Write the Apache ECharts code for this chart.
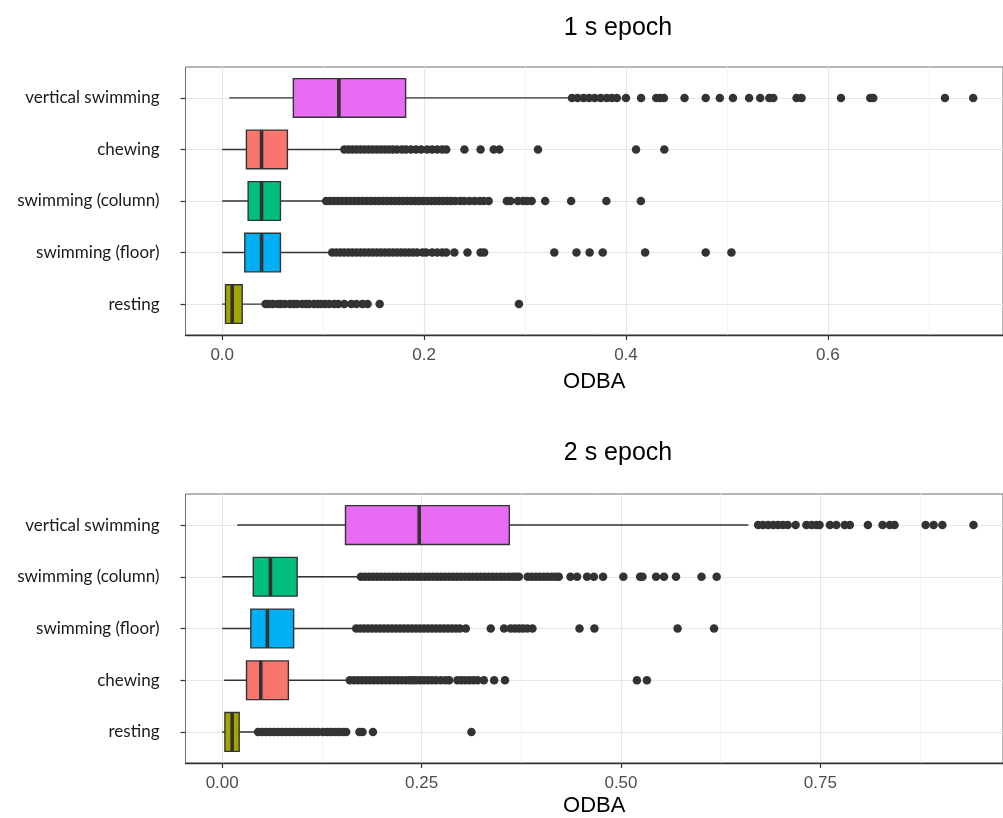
<!DOCTYPE html>
<html>
<head>
    <meta charset="UTF-8">
    <title>ODBA by behaviour</title>
    <script src="https://cdn.jsdelivr.net/npm/echarts@6/dist/echarts.min.js"></script>
    <style>
        html, body { margin: 0; padding: 0; background: #fff; }
    </style>
</head>
<body>
<div id="main" style="width: 1003px;height: 818px;"></div>

<script type="text/javascript">
    // ---- 1 s epoch ----
    var cats1 = ['resting', 'swimming (floor)', 'swimming (column)', 'chewing', 'vertical swimming'];
    var colors1 = ['#A3A500', '#00B0F6', '#00BF7D', '#F8766D', '#E76BF3'];
    // [lower whisker, Q1, median, Q3, upper whisker]
    var stats1 = [
        [0.0, 0.0033, 0.0099, 0.0198, 0.042],
        [0.0, 0.0224, 0.039, 0.0577, 0.108],
        [0.0, 0.0257, 0.039, 0.0577, 0.102],
        [0.0, 0.024, 0.039, 0.0646, 0.12],
        [0.007, 0.0705, 0.1156, 0.1817, 0.344]
    ];
    var out1Resting = [0.043, 0.046, 0.050, 0.055, 0.058, 0.062, 0.067, 0.071, 0.074, 0.079, 0.083, 0.086, 0.091, 0.095,
        0.098, 0.102, 0.106, 0.111, 0.115, 0.121, 0.128, 0.133, 0.139, 0.144, 0.156, 0.294];
    var out1Floor = [0.109, 0.113, 0.117, 0.121, 0.125, 0.129, 0.133, 0.137, 0.141, 0.145, 0.149, 0.153, 0.157, 0.161,
        0.165, 0.169, 0.173, 0.177, 0.181, 0.185, 0.189, 0.193, 0.1985, 0.202, 0.208, 0.213, 0.218, 0.222, 0.230,
        0.243, 0.256, 0.2595, 0.329, 0.351, 0.364, 0.377, 0.419, 0.479, 0.5045];
    var out1Column = [0.103, 0.107, 0.111, 0.115, 0.119, 0.123, 0.127, 0.131, 0.135, 0.139, 0.143, 0.147, 0.151, 0.155,
        0.159, 0.163, 0.167, 0.171, 0.175, 0.179, 0.183, 0.187, 0.191, 0.195, 0.199, 0.203, 0.207, 0.211, 0.215,
        0.219, 0.223, 0.227, 0.231, 0.236, 0.240, 0.245, 0.250, 0.255, 0.259, 0.264, 0.282, 0.2856, 0.293, 0.298,
        0.302, 0.3066, 0.320, 0.3457, 0.3806, 0.4148];
    var out1Chewing = [0.121, 0.125, 0.129, 0.133, 0.137, 0.141, 0.145, 0.149, 0.153, 0.157, 0.161, 0.165, 0.169, 0.173,
        0.178, 0.182, 0.187, 0.192, 0.197, 0.203, 0.208, 0.213, 0.218, 0.222, 0.240, 0.256, 0.269, 0.2746, 0.3128,
        0.410, 0.438];
    var out1Vertical = [0.3465, 0.352, 0.358, 0.3635, 0.369, 0.375, 0.381, 0.386, 0.391, 0.400, 0.415, 0.430, 0.434,
        0.4376, 0.458, 0.479, 0.493, 0.506, 0.522, 0.533, 0.542, 0.546, 0.569, 0.574, 0.613, 0.642, 0.645, 0.716, 0.744];
    var ticks1 = [0, 0.2, 0.4, 0.6];
    var minor1 = [0.1, 0.3, 0.5, 0.7];

    // ---- 2 s epoch ----
    var cats2 = ['resting', 'chewing', 'swimming (floor)', 'swimming (column)', 'vertical swimming'];
    var colors2 = ['#A3A500', '#F8766D', '#00B0F6', '#00BF7D', '#E76BF3'];
    var stats2 = [
        [0.0, 0.0034, 0.0125, 0.0213, 0.044],
        [0.0025, 0.0305, 0.0484, 0.083, 0.158],
        [0.0, 0.0359, 0.0567, 0.0896, 0.166],
        [0.0, 0.039, 0.0605, 0.094, 0.172],
        [0.0188, 0.1546, 0.247, 0.36, 0.6596]
    ];
    var out2Resting = [0.045, 0.050, 0.055, 0.060, 0.065, 0.070, 0.075, 0.080, 0.085, 0.090, 0.095, 0.100, 0.105, 0.110,
        0.115, 0.120, 0.126, 0.131, 0.136, 0.141, 0.146, 0.151, 0.1555, 0.172, 0.176, 0.189, 0.3125];
    var out2Chewing = [0.160, 0.165, 0.170, 0.175, 0.180, 0.185, 0.190, 0.195, 0.200, 0.205, 0.210, 0.215, 0.220, 0.225,
        0.230, 0.235, 0.239, 0.243, 0.248, 0.253, 0.258, 0.263, 0.268, 0.274, 0.280, 0.2846, 0.295, 0.300, 0.305,
        0.310, 0.315, 0.320, 0.328, 0.341, 0.3546, 0.520, 0.5325];
    var out2Floor = [0.168, 0.173, 0.178, 0.183, 0.188, 0.193, 0.198, 0.203, 0.208, 0.213, 0.218, 0.223, 0.228, 0.233,
        0.238, 0.243, 0.248, 0.253, 0.258, 0.263, 0.268, 0.273, 0.278, 0.283, 0.288, 0.293, 0.298, 0.3055, 0.3367,
        0.3534, 0.3617, 0.367, 0.372, 0.377, 0.3825, 0.389, 0.448, 0.4667, 0.571, 0.6167];
    var out2Column = [0.174, 0.179, 0.184, 0.189, 0.194, 0.199, 0.204, 0.209, 0.214, 0.219, 0.224, 0.229, 0.234, 0.239,
        0.244, 0.249, 0.254, 0.259, 0.264, 0.269, 0.274, 0.279, 0.284, 0.289, 0.294, 0.299, 0.304, 0.309, 0.314,
        0.319, 0.324, 0.329, 0.334, 0.339, 0.344, 0.349, 0.354, 0.359, 0.364, 0.368, 0.372, 0.383, 0.388, 0.393,
        0.398, 0.403, 0.408, 0.413, 0.418, 0.422, 0.4367, 0.445, 0.4575, 0.466, 0.4775, 0.503, 0.524, 0.527, 0.544,
        0.554, 0.569, 0.601, 0.62];
    var out2Vertical = [0.672, 0.678, 0.6846, 0.691, 0.697, 0.703, 0.709, 0.719, 0.7325, 0.739, 0.745, 0.749, 0.762,
        0.770, 0.7805, 0.787, 0.8096, 0.828, 0.837, 0.843, 0.882, 0.892, 0.903, 0.942];
    var ticks2 = [0, 0.25, 0.5, 0.75];
    var minor2 = [0.125, 0.375, 0.625, 0.875];

    var panels = [
        {
            title: '1 s epoch', titleTop: 11, top: 67, height: 268, min: -0.03635, max: 0.77353, nameGap: 36,
            cats: cats1, colors: colors1, stats: stats1, ticks: ticks1, minor: minor1, digits: 1,
            outliers: [out1Resting, out1Floor, out1Column, out1Chewing, out1Vertical]
        },
        {
            title: '2 s epoch', titleTop: 436, top: 494, height: 269, min: -0.046, max: 0.979, nameGap: 32,
            cats: cats2, colors: colors2, stats: stats2, ticks: ticks2, minor: minor2, digits: 2,
            outliers: [out2Resting, out2Chewing, out2Floor, out2Column, out2Vertical]
        }
    ];

    var LEFT = 185.5, WIDTH = 820;

    function renderBox(colors) {
        return function (params, api) {
            var c = api.value(0);
            var lo = api.coord([api.value(1), c]);
            var q1 = api.coord([api.value(2), c]);
            var md = api.coord([api.value(3), c]);
            var q3 = api.coord([api.value(4), c]);
            var hi = api.coord([api.value(5), c]);
            var h = api.size([0, 1])[1] * 0.75;
            return {
                type: 'group',
                children: [
                    {type: 'line', shape: {x1: lo[0], y1: lo[1], x2: hi[0], y2: hi[1]},
                        style: {stroke: '#333333', lineWidth: 1.4}},
                    {type: 'rect', shape: {x: q1[0], y: q1[1] - h / 2, width: q3[0] - q1[0], height: h},
                        style: {fill: colors[params.dataIndex], stroke: '#333333', lineWidth: 1.4}},
                    {type: 'line', shape: {x1: md[0], y1: md[1] - h / 2, x2: md[0], y2: md[1] + h / 2},
                        style: {stroke: '#333333', lineWidth: 3.6}}
                ]
            };
        };
    }

    var option = {
        animation: false,
        backgroundColor: '#ffffff',
        title: [],
        grid: [],
        xAxis: [],
        yAxis: [],
        series: []
    };

    panels.forEach(function (p, k) {
        var unit = p.height / 5.2;
        option.title.push({
            text: p.title, left: 613, top: p.titleTop, textAlign: 'center',
            textStyle: {fontFamily: 'Liberation Sans', fontSize: 25, fontWeight: 'normal', color: '#000'}
        });
        // outer panel (border, x labels, vertical grid)
        option.grid.push({
            left: LEFT, top: p.top, width: WIDTH, height: p.height,
            show: true, borderColor: '#6e6e6e', borderWidth: 1, backgroundColor: '#fff'
        });
        // inner area for the categories
        option.grid.push({
            left: LEFT, top: p.top + 0.6 * unit, width: WIDTH, height: p.height - 1.2 * unit
        });
        var digits = p.digits;
        option.xAxis.push({
            type: 'value', gridIndex: 2 * k, min: p.min, max: p.max, position: 'bottom',
            name: 'ODBA', nameLocation: 'middle', nameGap: p.nameGap,
            nameTextStyle: {fontFamily: 'Liberation Sans', fontSize: 22, color: '#000'},
            axisLine: {show: true, onZero: false, lineStyle: {color: '#333333', width: 1.4}},
            axisTick: {show: true, length: 5, customValues: p.ticks, lineStyle: {color: '#333333', width: 1.2}},
            axisLabel: {
                customValues: p.ticks, margin: 12, fontFamily: 'Liberation Sans', fontSize: 17, color: '#4d4d4d',
                formatter: function (v) { return Number(v).toFixed(digits); }
            },
            splitLine: {show: true, lineStyle: {color: '#e6e6e6', width: 1.2}}
        });
        option.xAxis.push({
            type: 'value', gridIndex: 2 * k, min: p.min, max: p.max, position: 'bottom',
            axisLine: {show: false},
            axisTick: {show: false, customValues: p.minor},
            axisLabel: {show: false, customValues: p.minor},
            splitLine: {show: true, lineStyle: {color: '#f3f3f3', width: 1}}
        });
        option.xAxis.push({
            type: 'value', gridIndex: 2 * k + 1, min: p.min, max: p.max, show: false,
            splitLine: {show: false}
        });
        option.yAxis.push({type: 'value', gridIndex: 2 * k, min: 0, max: 1, show: false});
        option.yAxis.push({
            type: 'category', gridIndex: 2 * k + 1, data: p.cats, boundaryGap: false, position: 'left',
            axisLine: {show: false, onZero: false},
            axisTick: {show: true, length: 5, lineStyle: {color: '#333333', width: 1.2}},
            axisLabel: {margin: 26, fontFamily: 'Lato', fontSize: 17, color: '#1a1a1a'},
            splitLine: {show: true, lineStyle: {color: '#e6e6e6', width: 1.2}}
        });

        var boxData = p.stats.map(function (s, i) { return [i].concat(s); });
        option.series.push({
            type: 'custom', xAxisIndex: 3 * k + 2, yAxisIndex: 2 * k + 1,
            renderItem: renderBox(p.colors),
            encode: {x: [1, 2, 3, 4, 5], y: 0},
            data: boxData, z: 3
        });

        var pts = [];
        p.outliers.forEach(function (vals, i) {
            vals.forEach(function (v) { pts.push([v, p.cats[i]]); });
        });
        option.series.push({
            type: 'scatter', xAxisIndex: 3 * k + 2, yAxisIndex: 2 * k + 1,
            symbol: 'circle', symbolSize: 8.5,
            itemStyle: {color: '#333333', opacity: 1},
            data: pts, z: 4
        });
    });

    var myChart = echarts.init(document.getElementById('main'));
    option && myChart.setOption(option);
</script>
</body>
</html>
